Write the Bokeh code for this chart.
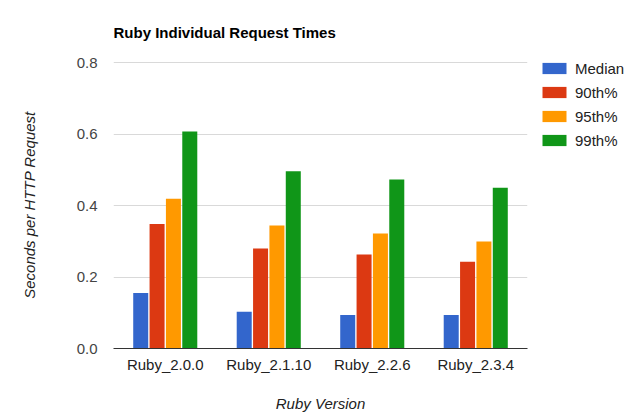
from bokeh.plotting import figure
from bokeh.models import (ColumnDataSource, FactorRange, Range1d, FixedTicker,
                          NumeralTickFormatter, Legend, LegendItem)
from bokeh.transform import dodge
from bokeh.embed import file_html
from bokeh.resources import INLINE

versions = ["Ruby_2.0.0", "Ruby_2.1.10", "Ruby_2.2.6", "Ruby_2.3.4"]
median = [0.155, 0.103, 0.094, 0.094]
p90 = [0.348, 0.280, 0.263, 0.243]
p95 = [0.419, 0.344, 0.322, 0.299]
p99 = [0.607, 0.496, 0.473, 0.450]
series_names = ["Median", "90th%", "95th%", "99th%"]
colors = ["#3366cc", "#dc3912", "#ff9900", "#109618"]
y_ticks = [0.0, 0.2, 0.4, 0.6, 0.8]

src = ColumnDataSource(dict(v=versions, median=median, p90=p90, p95=p95, p99=p99))

FONT = "Liberation Sans"
FS = "15px"

p = figure(frame_width=414, frame_height=287, output_backend="svg", toolbar_location=None,
           x_range=FactorRange(*versions), y_range=Range1d(0, 0.8028),
           min_border_left=113, min_border_right=100, min_border_top=61,
           min_border_bottom=62, tools="",
           title="Ruby Individual Request Times")
p.outline_line_color = None
p.background_fill_color = "white"
p.border_fill_color = "white"

p.title.text_font = FONT
p.title.text_font_size = FS
p.title.text_font_style = "bold"
p.title.text_color = "#000000"
p.title.align = "left"
p.title.standoff = 41

cols = ["median", "p90", "p95", "p99"]
offsets = [-0.237, -0.079, 0.079, 0.237]
renderers = []
for c, off, col in zip(cols, offsets, colors):
    r = p.vbar(x=dodge("v", off, range=p.x_range), top=c, width=0.145,
               source=src, fill_color=col, line_color=None)
    renderers.append(r)

p.xgrid.grid_line_color = None
p.ygrid.grid_line_color = "#d9d9d9"
p.ygrid.grid_line_width = 1
p.ygrid.ticker = FixedTicker(ticks=y_ticks)

p.yaxis.ticker = FixedTicker(ticks=y_ticks)
p.yaxis.formatter = NumeralTickFormatter(format="0.0")
p.yaxis.axis_line_color = None
p.yaxis.major_tick_line_color = None
p.yaxis.minor_tick_line_color = None
p.yaxis.major_label_standoff = 10
p.yaxis.major_label_text_font = FONT
p.yaxis.major_label_text_font_size = FS
p.yaxis.major_label_text_color = "#444444"
p.yaxis.axis_label = "Seconds per HTTP Request"
p.yaxis.axis_label_text_font = FONT
p.yaxis.axis_label_text_font_size = FS
p.yaxis.axis_label_text_font_style = "italic"
p.yaxis.axis_label_text_color = "#222222"
p.yaxis.axis_label_standoff = 36

p.xaxis.axis_line_color = "#333333"
p.xaxis.major_tick_line_color = None
p.xaxis.minor_tick_line_color = None
p.xaxis.major_label_standoff = 1
p.xaxis.major_label_text_font = FONT
p.xaxis.major_label_text_font_size = FS
p.xaxis.major_label_text_color = "#222222"
p.xaxis.axis_label = "Ruby Version"
p.xaxis.axis_label_text_font = FONT
p.xaxis.axis_label_text_font_size = FS
p.xaxis.axis_label_text_font_style = "italic"
p.xaxis.axis_label_text_color = "#222222"
p.xaxis.axis_label_standoff = 19

items = [LegendItem(label=n, renderers=[r]) for n, r in zip(series_names, renderers)]
legend = Legend(items=items, location=(12, 199.5), glyph_width=30, glyph_height=14,
                label_height=14, spacing=7, label_standoff=6, padding=0, margin=0,
                label_text_font=FONT, label_text_font_size=FS,
                label_text_color="#222222", background_fill_alpha=0,
                border_line_color=None)
p.add_layout(legend, "right")

open("out.html", "w").write(file_html(p, INLINE))
